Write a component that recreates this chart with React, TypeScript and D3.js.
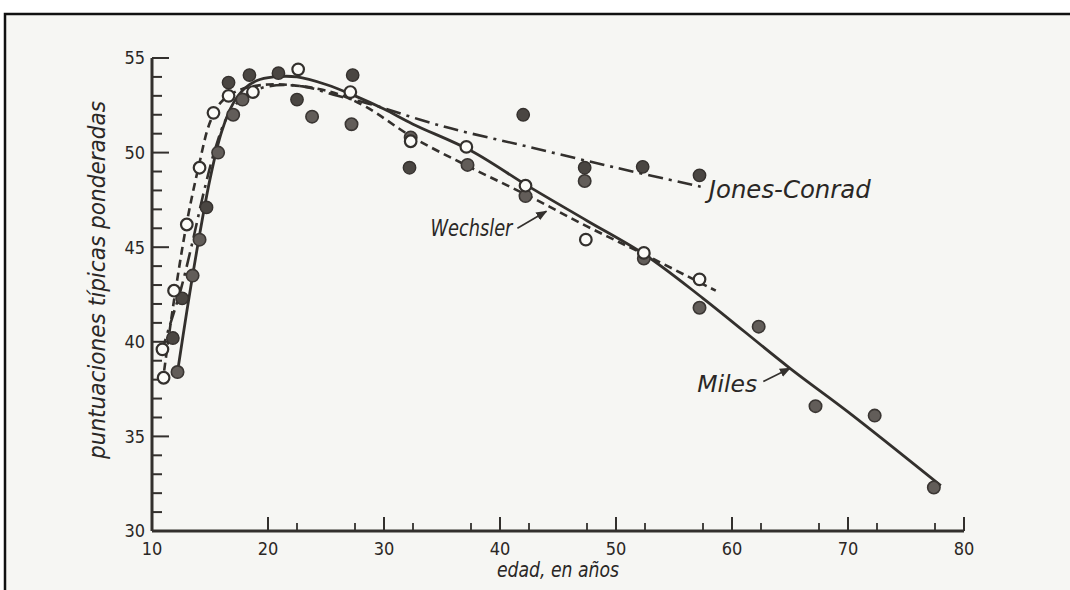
import React from "react";
import * as d3 from "d3";

// Ages and weighted standard scores
const xTicksMajor = [10, 20, 30, 40, 50, 60, 70, 80];
const xTicksMinor = [22.5, 27.5, 32.5, 37.5, 42.5, 47.5, 52.5, 57.5, 62.5, 67.5, 72.5, 77.5];
const yTicksMajor = [30, 35, 40, 45, 50, 55];
const yTicksMinor = d3.range(30, 56);

// fitted curves [age, score]
const milesCurve: [number, number][] = [
  [12.2, 38.4], [13, 41.6], [14, 45.3], [15, 48.6], [16, 51.1], [17, 52.6], [18, 53.4],
  [19, 53.8], [20.5, 54.0], [22.5, 54.0], [25, 53.6], [27.5, 53.0], [30, 52.3],
  [32.5, 51.5], [37.5, 50.1], [42.5, 48.2], [47.5, 46.4], [52.5, 44.6], [57.5, 42.3],
  [65, 38.6], [70, 36.3], [78, 32.4],
];
const wechslerCurve: [number, number][] = [
  [10.9, 37.8], [11.5, 40.5], [12, 42.6], [13, 46.3], [14, 49.2], [15, 51.6], [16, 52.7],
  [17.5, 53.3], [20, 53.6], [23, 53.5], [26, 53.1], [28.5, 52.4], [32.5, 50.8],
  [37.5, 49.2], [42.5, 47.7], [47.5, 46.1], [52.5, 44.6], [58.6, 42.7],
];
const jonesCurve: [number, number][] = [
  [10.8, 39.4], [11.5, 40.8], [12.5, 42.8], [13.5, 45.3], [14.5, 48.0], [15.5, 50.3],
  [16.5, 51.9], [18, 53.0], [20, 53.5], [23, 53.5], [26, 53.0], [28.6, 52.6],
  [35, 51.4], [42.5, 50.3], [50, 49.2], [57.3, 48.2],
];

// plotted group means
const wechslerPoints: [number, number][] = [
  [10.9, 39.6], [11.0, 38.1], [11.9, 42.7], [13.0, 46.2], [14.1, 49.2], [15.3, 52.1],
  [16.6, 53.0], [18.7, 53.2], [22.6, 54.4], [27.1, 53.2], [32.3, 50.6], [37.1, 50.3],
  [42.2, 48.25], [47.4, 45.4], [52.4, 44.7], [57.2, 43.3],
];
const jonesPoints: [number, number][] = [
  [11.8, 40.2], [12.6, 42.3], [14.7, 47.1], [16.6, 53.7], [18.4, 54.1], [20.9, 54.2],
  [22.5, 52.8], [27.3, 54.1], [32.2, 49.2], [42.0, 52.0], [47.3, 49.2], [52.3, 49.25],
  [57.2, 48.8],
];
const milesPoints: [number, number][] = [
  [12.2, 38.4], [13.5, 43.5], [14.1, 45.4], [15.7, 50.0], [17.0, 52.0], [17.8, 52.8],
  [23.8, 51.9], [27.2, 51.5], [32.3, 50.8], [37.2, 49.35], [42.2, 47.7], [47.3, 48.5],
  [52.4, 44.4], [57.2, 41.8], [62.3, 40.8], [67.2, 36.6], [72.3, 36.1], [77.4, 32.3],
];

const width = 1070;
const height = 590;
const ink = "#33302d";
const paper = "#f6f6f3";
const font = "'Liberation Sans Narrow', 'DejaVu Sans Condensed', 'Liberation Sans', sans-serif";

const x = d3.scaleLinear().domain([10, 80]).range([152, 964]);
const y = d3.scaleLinear().domain([30, 55]).range([531, 58]);

const line = d3.line<[number, number]>()
  .x(d => x(d[0]))
  .y(d => y(d[1]))
  .curve(d3.curveCatmullRom.alpha(0.5));

export default function App() {
  return (
    <svg
      width={width}
      height={height}
      style={{ position: "fixed", left: 0, top: 0, background: "#ffffff" }}
    >
      <defs>
        <marker id="arrow" viewBox="0 0 10 10" refX="9" refY="5" markerWidth="7" markerHeight="7" orient="auto">
          <path d="M0,1 L10,5 L0,9 Z" fill={ink} />
        </marker>
      </defs>

      {/* scanned page and its frame */}
      <rect x={5} y={14} width={width - 5} height={height - 14} fill={paper} />
      <path d={`M5,${height} V14 H${width}`} fill="none" stroke="#111" strokeWidth={2.5} />

      {/* axes */}
      <line x1={x(10)} x2={x(10)} y1={y(55)} y2={y(30)} stroke={ink} strokeWidth={3} />
      <line x1={x(10)} x2={x(80)} y1={y(30)} y2={y(30)} stroke={ink} strokeWidth={3} />

      {yTicksMinor.map(v => (
        <line key={"ym" + v} x1={x(10)} x2={x(10) + (v % 5 === 0 ? 17 : 10)}
          y1={y(v)} y2={y(v)} stroke={ink} strokeWidth={2} />
      ))}
      {yTicksMajor.map(v => (
        <text key={"yl" + v} x={x(10) - 7} y={y(v)} dy="0.35em" textAnchor="end"
          fontFamily={font} fontSize={18} fill="#2a2725">{v}</text>
      ))}

      {xTicksMajor.filter(v => v > 10).map(v => (
        <line key={"xt" + v} x1={x(v)} x2={x(v)} y1={y(30)} y2={y(30) - 14}
          stroke={ink} strokeWidth={2} />
      ))}
      {xTicksMinor.map(v => (
        <line key={"xm" + v} x1={x(v)} x2={x(v)} y1={y(30)} y2={y(30) - 8}
          stroke={ink} strokeWidth={1.8} />
      ))}
      {xTicksMajor.map(v => (
        <text key={"xl" + v} x={x(v)} y={y(30) + 24} textAnchor="middle"
          fontFamily={font} fontSize={18} fill="#2a2725">{v}</text>
      ))}

      {/* axis titles */}
      <text x={558} y={577} textAnchor="middle" fontFamily={font} fontStyle="italic"
        fontSize={22} fill="#2a2725" textLength={122} lengthAdjust="spacingAndGlyphs">
        edad, en años
      </text>
      <text transform={`translate(105, 280) rotate(-90)`} textAnchor="middle" fontFamily={font}
        fontStyle="italic" fontSize={23} fill="#2a2725" textLength={358} lengthAdjust="spacingAndGlyphs">
        puntuaciones típicas ponderadas
      </text>

      {/* fitted curves */}
      <path d={line(jonesCurve) ?? ""} fill="none" stroke={ink} strokeWidth={2.6}
        strokeDasharray="15,6,3,6" />
      <path d={line(wechslerCurve) ?? ""} fill="none" stroke={ink} strokeWidth={2.6}
        strokeDasharray="8,5" />
      <path d={line(milesCurve) ?? ""} fill="none" stroke={ink} strokeWidth={2.8} />

      {/* points */}
      {milesPoints.map((d, i) => (
        <circle key={"mp" + i} cx={x(d[0])} cy={y(d[1])} r={6.2}
          fill="#625d59" stroke="#3a3633" strokeWidth={1.6} />
      ))}
      {jonesPoints.map((d, i) => (
        <circle key={"jp" + i} cx={x(d[0])} cy={y(d[1])} r={6.2}
          fill="#4a4642" stroke="#35312e" strokeWidth={1.4} />
      ))}
      {wechslerPoints.map((d, i) => (
        <circle key={"wp" + i} cx={x(d[0])} cy={y(d[1])} r={5.8}
          fill="#fbfbf8" stroke={ink} strokeWidth={2.2} />
      ))}

      {/* curve labels */}
      <text x={x(58)} y={y(47.6)} fontFamily={font} fontStyle="italic" fontSize={24}
        fill="#2a2725" textLength={162} lengthAdjust="spacingAndGlyphs">Jones-Conrad</text>
      <text x={x(34)} y={y(45.6)} fontFamily={font} fontStyle="italic" fontSize={23}
        fill="#2a2725" textLength={82} lengthAdjust="spacingAndGlyphs">Wechsler</text>
      <line x1={x(41.5)} y1={y(46.0)} x2={x(44.0)} y2={y(46.9)} stroke={ink} strokeWidth={1.6}
        markerEnd="url(#arrow)" />
      <text x={x(57)} y={y(37.35)} fontFamily={font} fontStyle="italic" fontSize={23}
        fill="#2a2725" textLength={60} lengthAdjust="spacingAndGlyphs">Miles</text>
      <line x1={x(62.7)} y1={y(37.9)} x2={x(65.0)} y2={y(38.6)} stroke={ink} strokeWidth={1.6}
        markerEnd="url(#arrow)" />
    </svg>
  );
}
